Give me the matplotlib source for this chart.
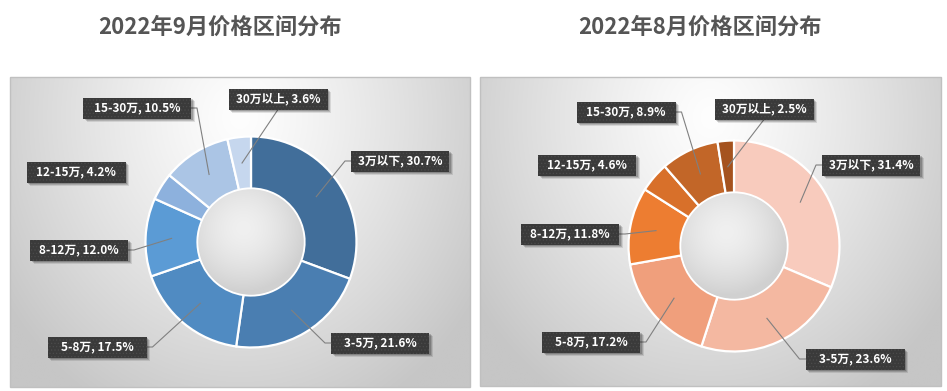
import numpy as np
import matplotlib
matplotlib.use('Agg')
import matplotlib.pyplot as plt
from matplotlib.patches import Rectangle, Circle

plt.rcParams['font.family'] = ['Noto Sans CJK SC', 'DejaVu Sans']
plt.rcParams['hatch.linewidth'] = 0.5

W, H = 947, 391

# data
categories = ['3万以下', '3-5万', '5-8万', '8-12万', '12-15万', '15-30万', '30万以上']
share_sep = [30.7, 21.6, 17.5, 12.0, 4.2, 10.5, 3.6]
share_aug = [31.4, 23.6, 17.2, 11.8, 4.6, 8.9, 2.5]
titles = ['2022年9月价格区间分布', '2022年8月价格区间分布']

blues = ['#416e9a', '#4a7eb1', '#508bc2', '#5b9bd5', '#8db1dd', '#abc5e5', '#c6d7ee']
oranges = ['#f8cbbd', '#f4b8a1', '#f09f7c', '#ed7d31', '#d8702a', '#c26628', '#a5531f']

# layout (pixels, y from top): panel box, donut center, label boxes (cx, cy, w, side)
panels = [
    dict(box=(10, 77, 470, 387), center=(251, 242), title_x=220, colors=blues, vals=share_sep,
         labels=[(400, 161, 98, 'l'), (380, 343, 98, 'l'), (97, 347, 99, 'r'), (79, 250, 98, 'r'),
                 (76, 172, 99, None), (137, 108, 108, 'r'), (278, 99, 99, 'b')]),
    dict(box=(480, 77, 941, 386), center=(734, 246), title_x=700, colors=oranges, vals=share_aug,
         labels=[(871, 165, 98, 'l'), (855, 359, 99, 'l'), (591, 342, 98, 'r'), (570, 234, 98, 'r'),
                 (587, 165, 98, None), (626, 112, 99, 'r'), (764, 109, 99, 'b')]),
]
R_OUT, R_IN = 105.5, 53.5
BOX_H = 21

fig = plt.figure(figsize=(W / 100, H / 100), dpi=100)
ax = fig.add_axes([0, 0, 1, 1])

def fy(y):
    return H - y

for k, p in enumerate(panels):
    x0, y0, x1, y1 = p['box']
    # radial gradient background
    gx = np.linspace(x0, x1, 300)
    gy = np.linspace(y0, y1, 200)
    XX, YY = np.meshgrid(gx, gy)
    pcx = (x0 + x1) / 2
    d = np.sqrt(((XX - pcx) / ((x1 - x0) * 0.64)) ** 2 + ((YY - (y0 + 40)) / ((y1 - y0) * 1.1)) ** 2)
    g = np.clip(254 - 58 * d ** 1.2, 198, 254) / 255.0
    img = np.dstack([g, g, g])
    ax.imshow(img, extent=(x0, x1, fy(y1), fy(y0)), origin='upper', zorder=0, interpolation='bilinear')
    ax.add_patch(Rectangle((x0, fy(y1)), x1 - x0, y1 - y0, fill=False, edgecolor='#c0c0c0', lw=1, zorder=1))

    ax.text(p['title_x'], fy(27), titles[k], ha='center', va='center', fontsize=16,
            fontweight='heavy', color='#555555')

    cx, cy = p['center']
    vals = p['vals']
    ax.pie(vals, colors=p['colors'], startangle=90, counterclock=False, radius=R_OUT,
           center=(cx, fy(cy)), frame=True,
           wedgeprops=dict(width=R_OUT - R_IN, edgecolor='white', linewidth=1.6))

    # hole shading
    hx = np.linspace(-1, 1, 120)
    HX, HY = np.meshgrid(hx, hx)
    hd = np.sqrt((HX + 0.15) ** 2 + (HY + 0.25) ** 2)
    hg = np.clip(240 - 24 * hd ** 1.6, 208, 240) / 255.0
    him = ax.imshow(np.dstack([hg, hg, hg]), extent=(cx - R_IN, cx + R_IN, fy(cy) - R_IN, fy(cy) + R_IN),
                    origin='upper', zorder=2, interpolation='bilinear')
    hole = Circle((cx, fy(cy)), R_IN - 0.8, transform=ax.transData)
    him.set_clip_path(hole)

    # labels with leader lines
    total = sum(vals)
    cum = 0.0
    for i, (name, v) in enumerate(zip(categories, vals)):
        mid = (cum + v / 2) / total * 2 * np.pi
        cum += v
        ax_x = cx + (R_OUT + R_IN) / 2 * np.sin(mid)
        ax_y = cy - (R_OUT + R_IN) / 2 * np.cos(mid)
        bx, by, bw, side = p['labels'][i]
        bl, br = bx - bw / 2, bx + bw / 2
        bt, bb = by - BOX_H / 2, by + BOX_H / 2
        if side == 'l':
            ax.plot([ax_x, bl - 6, bl], [fy(ax_y), fy(by), fy(by)], color='#808080', lw=0.8, zorder=4)
        elif side == 'r':
            ax.plot([ax_x, br + 6, br], [fy(ax_y), fy(by), fy(by)], color='#808080', lw=0.8, zorder=4)
        elif side == 'b':
            ax.plot([ax_x, bx], [fy(ax_y), fy(bb)], color='#808080', lw=0.8, zorder=4)
        for off, a in [(3.5, 0.10), (2.5, 0.15), (1.5, 0.18)]:
            ax.add_patch(Rectangle((bl + off, fy(bb) - off), bw, BOX_H, facecolor='black',
                                   alpha=a, lw=0, zorder=5))
        ax.add_patch(Rectangle((bl, fy(bb)), bw, BOX_H, facecolor='#3a3a3a', edgecolor='#4b4b4b',
                               hatch='.....', lw=0, zorder=6))
        ax.text(bx, fy(by), f'{name}, {v:.1f}%', ha='center', va='center', fontsize=8.5,
                fontweight='heavy', color='white', zorder=7)

ax.set_xlim(0, W)
ax.set_ylim(0, H)
ax.set_aspect('auto')
ax.axis('off')
fig.savefig('out.png', dpi=100, facecolor='white')
